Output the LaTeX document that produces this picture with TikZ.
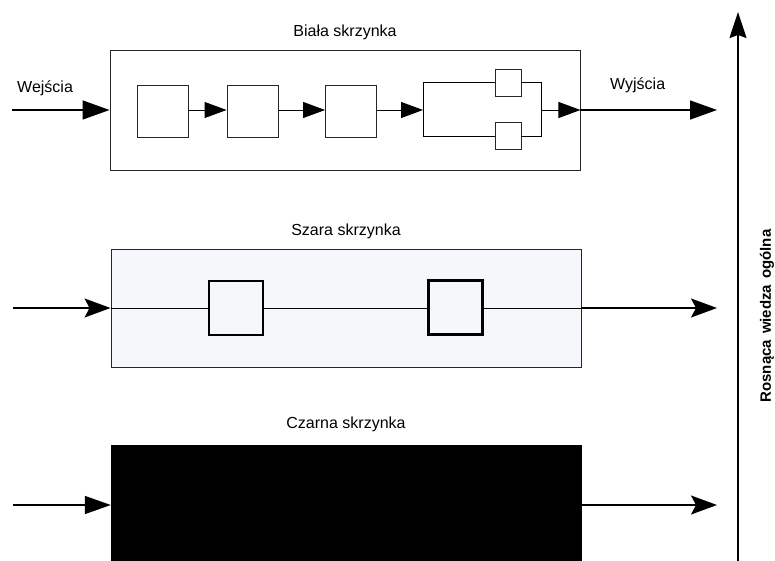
\documentclass[tikz,border=0pt]{standalone}
\usepackage{fontspec}
\setmainfont{Liberation Sans}
\usetikzlibrary{arrows.meta}
\definecolor{greyfill}{RGB}{245,247,250}
\begin{document}
\begin{tikzpicture}[x=1pt,y=-1pt,
  lbl/.style={font=\fontsize{16}{19}\selectfont, inner sep=0pt},
  outer/.style={draw=black!85, line width=0.9pt, inner sep=0pt, minimum width=470pt},
  inbox/.style={draw=black!85, line width=0.9pt, inner sep=0pt, minimum width=51pt, minimum height=52pt},
  smallbox/.style={draw=black!85, line width=0.9pt, inner sep=0pt, minimum width=26pt, minimum height=27pt},
  thickbox/.style={draw=black, line width=2.8pt, inner sep=0pt, minimum width=54pt, minimum height=54pt},
  wire/.style={line width=0.9pt},
  mainwire/.style={line width=1.5pt},
  bigtri/.style={-{Triangle[length=27pt,width=19pt]}},
  smalltri/.style={-{Triangle[length=22pt,width=16pt]}},
  stealthtip/.style={-{Stealth[length=26pt,width=19pt,inset=5pt]}}
]
\clip (0,0) rectangle (775,561);
\fill[white] (0,0) rectangle (775,561);

% ---------- White box ----------
\node[outer, minimum height=120pt] (wb) at (345,110) {};
\node[lbl, anchor=base] (wbt) at (345,37) {Biała skrzynka};
\node[lbl, anchor=base west] (win) at (17,93) {Wejścia};
\node[lbl, anchor=base west] (wout) at (610,90) {Wyjścia};
\node[inbox] (b1) at (162.5,111) {};
\node[inbox] (b2) at (252.5,111) {};
\node[inbox] (b3) at (351,111) {};
\node[smallbox] (s1) at (508,82.5) {};
\node[smallbox] (s2) at (508,136) {};
\coordinate (pl) at (423,110);
\coordinate (pr) at (541,110);
\coordinate (wstart) at (12,110);
\coordinate (wend) at (717,110);

\draw[mainwire, bigtri] (wstart) -- (wstart -| wb.west);
\draw[wire, smalltri] (b1.east |- pl) -- (b2.west |- pl);
\draw[wire, smalltri] (b2.east |- pl) -- (b3.west |- pl);
\draw[wire, smalltri] (b3.east |- pl) -- (pl);
\draw[wire] (pl) |- (s1.west);
\draw[wire] (pl) |- (s2.west);
\draw[wire] (s1.east) -| (pr);
\draw[wire] (s2.east) -| (pr);
\draw[wire, smalltri] (pr) -- (pr -| wb.east);
\draw[mainwire, bigtri] (pr -| wb.east) -- (wend);

% ---------- Grey box ----------
\node[outer, fill=greyfill, minimum height=118pt] (gb) at (346,308) {};
\node[lbl, anchor=base] (gbt) at (346,235) {Szara skrzynka};
\node[thickbox] (ga) at (236,308) {};
\node[thickbox] (gbx) at (455.5,307.5) {};
\coordinate (gstart) at (13,308);
\coordinate (gend) at (717,308);
\draw[mainwire, stealthtip] (gstart) -- (gstart -| gb.west);
\draw[wire] (gstart -| gb.west) -- (ga.west);
\draw[wire] (ga.east) -- (gbx.west |- ga.east);
\draw[wire] (gbx.east |- ga.east) -- (gstart -| gb.east);
\draw[mainwire, stealthtip] (gstart -| gb.east) -- (gend);

% ---------- Black box ----------
\node[draw=black, fill=black, inner sep=0pt, minimum width=470pt, minimum height=120pt] (bb) at (346,505) {};
\node[lbl, anchor=base] (bbt) at (346,428) {Czarna skrzynka};
\coordinate (bstart) at (13,505);
\coordinate (bend) at (717,505);
\draw[mainwire, -{Triangle[length=26pt,width=18pt]}] (bstart) -- (bb.west);
\draw[mainwire, stealthtip] (bb.east) -- (bend);

% ---------- Knowledge axis ----------
\coordinate (abot) at (738,561);
\coordinate (atop) at (738,12);
\draw[mainwire, -{Stealth[length=26pt,width=17pt,inset=3pt]}] (abot) -- (atop);
\node[lbl, font=\fontsize{15}{18}\selectfont\bfseries, rotate=90] (axl) at (767,316) {Rosnąca\hspace{6pt}wiedza\hspace{6pt}ogólna};
\end{tikzpicture}
\end{document}
